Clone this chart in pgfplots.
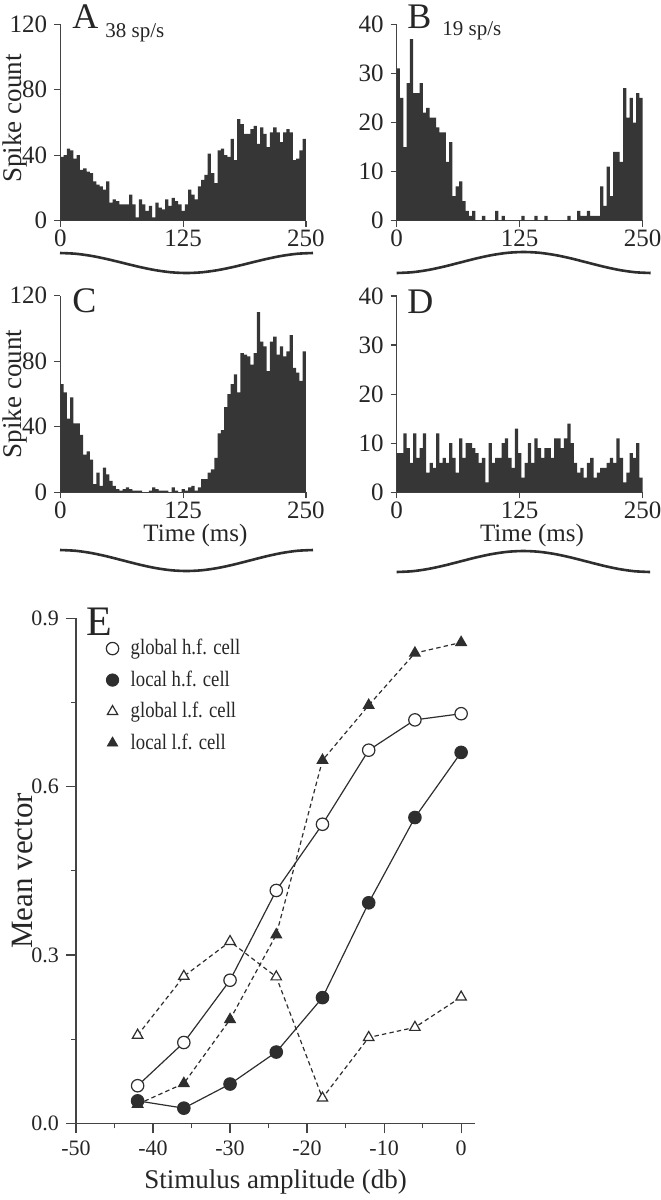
\documentclass[border=0pt]{standalone}
\usepackage{fontspec}
\setmainfont{Liberation Serif}
\newfontfamily\cond[FakeStretch=0.85]{Liberation Serif}
\usepackage{pgfplots}
\pgfplotsset{compat=1.18}
\usepackage{pgfplotstable}

\definecolor{bar}{HTML}{363636}
\definecolor{ax}{HTML}{444444}
\definecolor{ln}{HTML}{2E2E2E}

\pgfplotstableread[row sep=\\]{c\\39\\40\\44\\43\\38\\40\\31\\32\\30\\29\\24\\22\\21\\19\\24\\11\\13\\12\\10\\10\\10\\16\\10\\2\\13\\10\\6\\9\\2\\11\\8\\7\\13\\9\\14\\12\\10\\6\\10\\19\\16\\13\\21\\25\\28\\41\\29\\23\\43\\44\\40\\39\\50\\37\\62\\59\\53\\53\\56\\58\\47\\57\\53\\45\\54\\57\\54\\48\\54\\56\\54\\37\\38\\43\\50\\50\\}\histA
\pgfplotstableread[row sep=\\]{c\\31\\25\\15\\28\\37\\26\\26\\28\\22\\23\\21\\21\\19\\18\\18\\12\\16\\5\\7\\8\\4\\2\\1\\2\\0\\0\\1\\0\\0\\0\\2\\0\\1\\0\\0\\0\\0\\0\\1\\0\\0\\0\\1\\0\\0\\1\\0\\0\\0\\0\\0\\0\\1\\0\\0\\2\\1\\1\\2\\1\\1\\1\\7\\3\\11\\5\\14\\14\\12\\27\\21\\25\\20\\26\\25\\25\\}\histB
\pgfplotstableread[row sep=\\]{c\\66\\61\\45\\58\\42\\42\\35\\23\\25\\20\\5\\12\\4\\15\\11\\7\\4\\2\\1\\2\\3\\2\\1\\1\\1\\0\\0\\1\\3\\2\\1\\1\\1\\0\\3\\1\\0\\2\\1\\3\\4\\1\\3\\8\\8\\12\\14\\21\\36\\38\\52\\60\\66\\72\\61\\85\\84\\83\\78\\85\\110\\92\\89\\74\\92\\95\\84\\89\\83\\86\\96\\76\\73\\68\\86\\86\\}\histC
\pgfplotstableread[row sep=\\]{c\\8\\8\\12\\9\\6\\12\\7\\9\\12\\4\\6\\5\\12\\6\\7\\6\\10\\7\\4\\11\\7\\10\\10\\9\\8\\6\\7\\2\\10\\6\\7\\7\\10\\11\\7\\5\\13\\8\\3\\6\\10\\6\\11\\9\\7\\9\\9\\7\\11\\11\\9\\11\\14\\10\\6\\4\\5\\3\\6\\7\\3\\4\\5\\5\\6\\7\\6\\11\\7\\2\\4\\8\\7\\10\\3\\3\\}\histD

\pgfplotstableread{
x    ghf    lhf    glf    llf
-42  0.067  0.040  0.157  0.034
-36  0.144  0.027  0.262  0.071
-30  0.255  0.070  0.324  0.185
-24  0.415  0.127  0.261  0.336
-18  0.533  0.224  0.045  0.647
-12  0.665  0.393  0.153  0.745
-6   0.719  0.545  0.171  0.838
0    0.730  0.661  0.225  0.857
}\meanvec

\pgfplotstableread{
k  y
0  1
1  0.924
2  0.707
3  0.383
4  0
5  -0.383
6  -0.707
7  -0.924
8  -1
9  -0.924
10 -0.707
11 -0.383
12 0
13 0.383
14 0.707
15 0.924
16 1
}\wave

\pgfplotsset{
  hist/.style={
    scale only axis, anchor=south west,
    xmin=0, xmax=250, ymin=0,
    axis x line*=bottom, axis y line*=left,
    axis line style={ax, line width=0.6pt},
    tick style={ax, line width=0.6pt},
    tick align=outside, major tick length=3pt,
    xtick={0,125,250},
    tick label style={font=\fontsize{12.5}{12.5}\selectfont, text=black!85},
    xticklabel style={inner sep=1.5pt},
    label style={font=\fontsize{13.5}{13.5}\selectfont, text=black!85},
    /pgf/number format/assume math mode=true,
    clip=false,
  },
  wv/.style={
    scale only axis, anchor=south west, hide axis, clip=false,
    xmin=0, xmax=16, ymin=-1, ymax=1,
  },
}

\begin{document}
\begin{tikzpicture}
\path[use as bounding box] (0pt,0pt) rectangle (330pt,-600pt);

% Panel A
\begin{axis}[hist, at={(30.15pt,-110.35pt)}, width=122.85pt, height=98.2pt,
  ymax=120, ytick={0,40,80,120}, ylabel={Spike count},
  ylabel style={at={(axis description cs:-0.185,0.52)}, anchor=center}]
\addplot[const plot, fill=bar, draw=none] table[x expr=\coordindex*10/3, y=c]{\histA} \closedcycle;
\end{axis}

% Panel B
\begin{axis}[hist, at={(198.35pt,-110.35pt)}, width=123pt, height=98.2pt,
  ymax=40, ytick={0,10,20,30,40}]
\addplot[const plot, fill=bar, draw=none] table[x expr=\coordindex*10/3, y=c]{\histB} \closedcycle;
\end{axis}

% Panel C
\begin{axis}[hist, at={(30.15pt,-246.15pt)}, width=122.85pt, height=98.3pt,
  ymax=120, ytick={0,40,80,120}, ylabel={Spike count}, xlabel={Time (ms)},
  ylabel style={at={(axis description cs:-0.185,0.5)}, anchor=center},
  xlabel style={at={(axis description cs:0.55,-0.222)}, anchor=center, inner sep=0.5pt, font=\fontsize{12.5}{12.5}\selectfont}]
\addplot[const plot, fill=bar, draw=none] table[x expr=\coordindex*10/3, y=c]{\histC} \closedcycle;
\end{axis}

% Panel D
\begin{axis}[hist, at={(198.35pt,-246.15pt)}, width=123pt, height=98.15pt,
  ymax=40, ytick={0,10,20,30,40}, xlabel={Time (ms)},
  xlabel style={at={(axis description cs:0.55,-0.222)}, anchor=center, inner sep=0.5pt, font=\fontsize{12.5}{12.5}\selectfont}]
\addplot[const plot, fill=bar, draw=none] table[x expr=\coordindex*10/3, y=c]{\histD} \closedcycle;
\end{axis}

% stimulus waveforms
\begin{axis}[wv, at={(30pt,-136.5pt)}, width=126.5pt, height=10pt]
\addplot[smooth, ln, line width=1.3pt] table[x=k, y=y]{\wave};
\end{axis}
\begin{axis}[wv, at={(198.35pt,-136.5pt)}, width=127pt, height=10.5pt]
\addplot[smooth, ln, line width=1.3pt] table[x=k, y expr=-\thisrow{y}]{\wave};
\end{axis}
\begin{axis}[wv, at={(30pt,-285.5pt)}, width=126.5pt, height=10.5pt]
\addplot[smooth, ln, line width=1.3pt] table[x=k, y=y]{\wave};
\end{axis}
\begin{axis}[wv, at={(198.35pt,-286pt)}, width=126.7pt, height=10.5pt]
\addplot[smooth, ln, line width=1.3pt] table[x=k, y expr=-\thisrow{y}]{\wave};
\end{axis}

% Panel E
\begin{axis}[scale only axis, anchor=south west, at={(38pt,-561.65pt)},
  width=199.5pt, height=252.5pt,
  xmin=-50, xmax=1.8, ymin=0, ymax=0.9,
  axis x line*=bottom, axis y line*=left,
  axis line style={ax, line width=0.6pt},
  tick style={ax, line width=0.6pt},
  tick align=outside, major tick length=5pt, minor tick length=2.5pt,
  xtick={-50,-40,-30,-20,-10,0}, minor xtick={-45,-35,-25,-15,-5},
  ytick={0,0.3,0.6,0.9}, minor ytick={0.15,0.45,0.75},
  yticklabel style={/pgf/number format/.cd, fixed, fixed zerofill, precision=1},
  tick label style={font=\fontsize{11}{11}\selectfont, text=black!85},
  /pgf/number format/assume math mode=true,
  xlabel={Stimulus amplitude (db)}, ylabel={Mean vector},
  xlabel style={font=\fontsize{13.5}{13.5}\selectfont, text=black!85, at={(axis description cs:0.5,-0.117)}, anchor=center},
  ylabel style={font=\fontsize{15.5}{15.5}\selectfont, text=black!85, at={(axis description cs:-0.135,0.5)}, anchor=center},
  clip=false,
  legend style={draw=none, fill=none, at={(axis description cs:0.06,0.975)}, anchor=north west,
    font=\cond\fontsize{11}{11}\selectfont, row sep=2.5pt, text=black!85},
  legend cell align=left,
]
\addplot[forget plot, ln, line width=0.6pt, dash pattern=on 2.2pt off 1.6pt, mark=triangle*, mark size=3pt, mark options={solid, fill=white, line width=0.6pt}] table[x=x, y=glf]{\meanvec};
\addplot[forget plot, ln, line width=0.6pt, dash pattern=on 2.2pt off 1.6pt, mark=triangle*, mark size=3pt, mark options={solid, fill=ln}] table[x=x, y=llf]{\meanvec};
\addplot[forget plot, ln, line width=0.6pt, mark=*, mark size=3.1pt, mark options={solid, fill=white, line width=0.6pt}] table[x=x, y=ghf]{\meanvec};
\addplot[forget plot, ln, line width=0.6pt, mark=*, mark size=3.1pt, mark options={solid, fill=ln}] table[x=x, y=lhf]{\meanvec};
\addlegendimage{only marks, ln, mark=*, mark size=3.1pt, mark options={fill=white, line width=0.6pt}}
\addlegendentry{\hspace{4pt}global h.f. cell}
\addlegendimage{only marks, ln, mark=*, mark size=3.1pt, mark options={fill=ln}}
\addlegendentry{\hspace{4pt}local h.f. cell}
\addlegendimage{only marks, ln, mark=triangle*, mark size=3pt, mark options={fill=white, line width=0.6pt}}
\addlegendentry{\hspace{4pt}global l.f. cell}
\addlegendimage{only marks, ln, mark=triangle*, mark size=3pt, mark options={fill=ln}}
\addlegendentry{\hspace{4pt}local l.f. cell}
\end{axis}

% panel letters
\node[anchor=base west, inner sep=0pt, font=\fontsize{18}{18}\selectfont, text=black!85] at (36pt,-14pt) {A};
\node[anchor=base west, inner sep=0pt, font=\fontsize{10.5}{10.5}\selectfont, text=black!85] at (52.5pt,-18.5pt) {38 sp/s};
\node[anchor=base west, inner sep=0pt, font=\fontsize{18}{18}\selectfont, text=black!85] at (203.5pt,-14pt) {B};
\node[anchor=base west, inner sep=0pt, font=\fontsize{10.5}{10.5}\selectfont, text=black!85] at (221pt,-17.5pt) {19 sp/s};
\node[anchor=base west, inner sep=0pt, font=\fontsize{18}{18}\selectfont, text=black!85] at (36pt,-156pt) {C};
\node[anchor=base west, inner sep=0pt, font=\fontsize{18}{18}\selectfont, text=black!85] at (203.5pt,-156.5pt) {D};
\node[anchor=base west, inner sep=0pt, font=\fontsize{21}{21}\selectfont, text=black!85] at (43pt,-317.5pt) {E};
\end{tikzpicture}
\end{document}
